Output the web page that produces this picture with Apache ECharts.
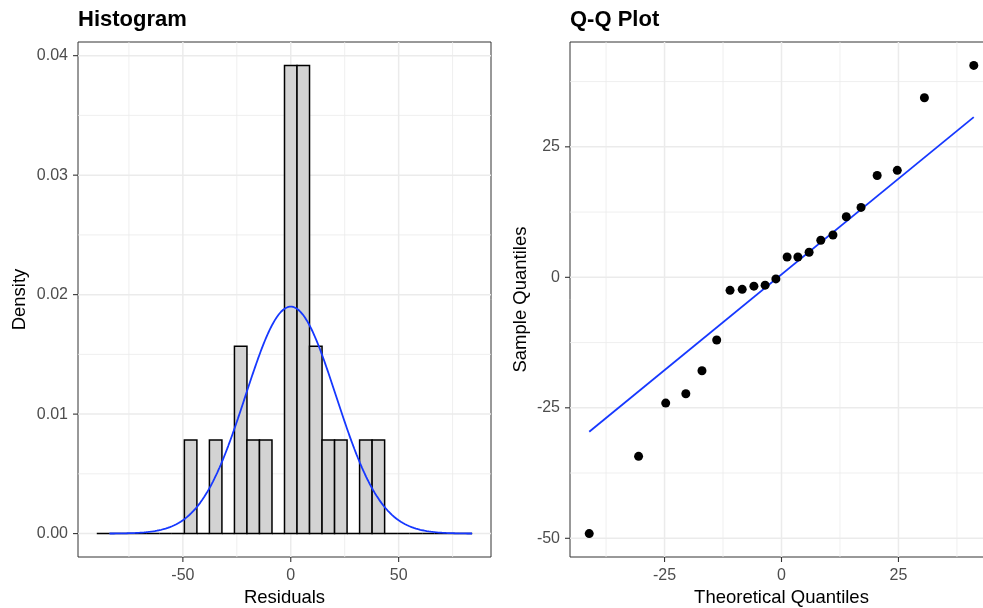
<!DOCTYPE html>
<html>
<head>
<meta charset="utf-8">
<script src="https://cdn.jsdelivr.net/npm/echarts@6/dist/echarts.min.js"></script>
<style>
  html, body { margin: 0; padding: 0; background: #ffffff; }
  #chart { width: 983px; height: 608px; }
</style>
</head>
<body>
<div id="chart"></div>
<script>
// Model residuals, sorted (sample quantiles)
const residuals = [-49.1, -34.3, -24.1, -22.3, -17.9, -12.0, -2.5, -2.3, -1.7, -1.5, -0.3,
                   3.9, 3.9, 4.8, 7.1, 8.1, 11.6, 13.4, 19.5, 20.5, 34.4, 40.6];
// Matching theoretical normal quantiles on the residual scale
const theoretical = [-41.1, -30.55, -24.75, -20.45, -17.0, -13.85, -11.0, -8.4, -5.9, -3.5, -1.2,
                     1.2, 3.5, 5.9, 8.4, 11.0, 13.85, 17.0, 20.45, 24.75, 30.55, 41.1];
// Reference line of the Q-Q plot (end points)
const qqLine = [[-41.1, -29.6], [41.1, 30.7]];

// Histogram binning
const binWidth = 5.8;
const binStart = -89.9;
const binCount = 30;
// Range of the overlaid normal density curve
const curveRange = [-84, 84];

// Tick labels and grid breaks
const histXTicks = [-50, 0, 50];
const histXMinor = [-75, -25, 25, 75];
const histYTicks = [0, 0.01, 0.02, 0.03, 0.04];
const histYMinor = [0.005, 0.015, 0.025, 0.035];
const qqXTicks = [-25, 0, 25];
const qqXMinor = [-37.5, -12.5, 12.5, 37.5];
const qqYTicks = [-50, -25, 0, 25];
const qqYMinor = [-37.5, -12.5, 12.5, 37.5];

// ---- derived values ----
const n = residuals.length;
const bins = [];
for (let i = 0; i < binCount; i++) {
  const lo = binStart + i * binWidth, hi = lo + binWidth;
  const c = residuals.filter(r => r >= lo && r < hi).length;
  bins.push([lo, hi, c / (n * binWidth)]);
}
const mean = residuals.reduce((a, b) => a + b, 0) / n;
const sd = Math.sqrt(residuals.reduce((a, b) => a + (b - mean) * (b - mean), 0) / (n - 1));
const curve = [];
for (let x = curveRange[0]; x <= curveRange[1] + 1e-9; x += 0.5) {
  const z = (x - mean) / sd;
  curve.push([x, Math.exp(-0.5 * z * z) / (sd * Math.sqrt(2 * Math.PI))]);
}
const qqPoints = theoretical.map((t, i) => [t, residuals[i]]);

// axis extents (data range padded by 5%)
function padded(lo, hi) { const p = (hi - lo) * 0.05; return [lo - p, hi + p]; }
const histXR = padded(binStart, binStart + binCount * binWidth);
const histYR = padded(0, Math.max(...bins.map(b => b[2])));
const qqXR = padded(Math.min(...theoretical), Math.max(...theoretical));
const qqYR = padded(Math.min(...residuals), Math.max(...residuals));

const FONT = '"Liberation Sans", Arial, Helvetica, sans-serif';
const GRID_COLOR = '#EBEBEB';
const TICK_LEN = 5;

// panel grid lines
function gridLines(idx, values, dir, xr, yr, width) {
  return {
    type: 'custom', xAxisIndex: idx, yAxisIndex: idx, silent: true, z: 1,
    animation: false,
    data: values.map(v => [v, v]),
    renderItem(params, api) {
      const v = api.value(0);
      const a = dir === 'x' ? api.coord([v, yr[0]]) : api.coord([xr[0], v]);
      const b = dir === 'x' ? api.coord([v, yr[1]]) : api.coord([xr[1], v]);
      return { type: 'line', shape: { x1: a[0], y1: a[1], x2: b[0], y2: b[1] },
               style: { stroke: GRID_COLOR, lineWidth: width } };
    }
  };
}
// outward tick marks on the bottom / left panel edges
function tickMarks(idx, values, dir, xr, yr) {
  return {
    type: 'custom', xAxisIndex: idx, yAxisIndex: idx, silent: true, z: 5, clip: false,
    animation: false,
    data: values.map(v => [v, v]),
    renderItem(params, api) {
      const v = api.value(0);
      const a = dir === 'x' ? api.coord([v, yr[0]]) : api.coord([xr[0], v]);
      const shape = dir === 'x'
        ? { x1: a[0], y1: a[1], x2: a[0], y2: a[1] + TICK_LEN }
        : { x1: a[0] - TICK_LEN, y1: a[1], x2: a[0], y2: a[1] };
      return { type: 'line', shape: shape, style: { stroke: '#333333', lineWidth: 1.1 } };
    }
  };
}

function xAxisCfg(idx, range, ticks, name, gap, fmt) {
  return {
    type: 'value', gridIndex: idx, min: range[0], max: range[1],
    axisLine: { show: false },
    splitLine: { show: false },
    axisTick: { show: false },
    axisLabel: { customValues: ticks, margin: 11, color: '#4D4D4D', fontSize: 16, fontFamily: FONT,
                 formatter: fmt },
    name: name, nameLocation: 'middle', nameGap: gap,
    nameTextStyle: { color: '#000000', fontSize: 18.5, fontFamily: FONT }
  };
}
function yAxisCfg(idx, range, ticks, name, gap, fmt) {
  const c = xAxisCfg(idx, range, ticks, name, gap, fmt);
  c.axisLabel.margin = 10;
  c.nameRotate = 90;
  return c;
}

const chart = echarts.init(document.getElementById('chart'), null, { renderer: 'canvas' });
chart.setOption({
  backgroundColor: '#ffffff',
  animation: false,
  title: [
    { text: 'Histogram', left: 78, top: 9, padding: 0,
      textStyle: { fontSize: 22, fontWeight: 'bold', color: '#000000', fontFamily: FONT } },
    { text: 'Q-Q Plot', left: 570, top: 9, padding: 0,
      textStyle: { fontSize: 22, fontWeight: 'bold', color: '#000000', fontFamily: FONT } }
  ],
  grid: [
    { left: 78, top: 42, width: 413, height: 515, show: true, borderColor: '#333333', borderWidth: 1,
      backgroundColor: 'transparent', containLabel: false, outerBoundsMode: 'none' },
    { left: 570, top: 42, width: 423, height: 515, show: true, borderColor: '#333333', borderWidth: 1,
      backgroundColor: 'transparent', containLabel: false, outerBoundsMode: 'none' }
  ],
  xAxis: [
    xAxisCfg(0, histXR, histXTicks, 'Residuals', 31, v => String(v)),
    xAxisCfg(1, qqXR, qqXTicks, 'Theoretical Quantiles', 31, v => String(v))
  ],
  yAxis: [
    yAxisCfg(0, histYR, histYTicks, 'Density', 49, v => v.toFixed(2)),
    yAxisCfg(1, qqYR, qqYTicks, 'Sample Quantiles', 40, v => String(v))
  ],
  series: [
    gridLines(0, histXMinor, 'x', histXR, histYR, 0.8),
    gridLines(0, histYMinor, 'y', histXR, histYR, 0.8),
    gridLines(0, histXTicks, 'x', histXR, histYR, 1.5),
    gridLines(0, histYTicks, 'y', histXR, histYR, 1.5),
    gridLines(1, qqXMinor, 'x', qqXR, qqYR, 0.8),
    gridLines(1, qqYMinor, 'y', qqXR, qqYR, 0.8),
    gridLines(1, qqXTicks, 'x', qqXR, qqYR, 1.5),
    gridLines(1, qqYTicks, 'y', qqXR, qqYR, 1.5),
    tickMarks(0, histXTicks, 'x', histXR, histYR),
    tickMarks(0, histYTicks, 'y', histXR, histYR),
    tickMarks(1, qqXTicks, 'x', qqXR, qqYR),
    tickMarks(1, qqYTicks, 'y', qqXR, qqYR),
    {
      name: 'histogram', type: 'custom', xAxisIndex: 0, yAxisIndex: 0, z: 3,
      data: bins,
      encode: { x: [0, 1], y: 2 },
      renderItem(params, api) {
        const p0 = api.coord([api.value(0), api.value(2)]);
        const p1 = api.coord([api.value(1), 0]);
        return { type: 'rect',
                 shape: { x: p0[0], y: p0[1], width: p1[0] - p0[0], height: p1[1] - p0[1] },
                 style: { fill: '#D3D3D3', stroke: '#000000', lineWidth: 1.5 } };
      }
    },
    {
      name: 'normal density', type: 'line', xAxisIndex: 0, yAxisIndex: 0, z: 4,
      data: curve, showSymbol: false, symbol: 'none', smooth: false,
      lineStyle: { color: '#1638FF', width: 1.8 }
    },
    {
      name: 'qq line', type: 'line', xAxisIndex: 1, yAxisIndex: 1, z: 3,
      data: qqLine, showSymbol: false, symbol: 'none',
      lineStyle: { color: '#1638FF', width: 1.8 }
    },
    {
      name: 'qq points', type: 'scatter', xAxisIndex: 1, yAxisIndex: 1, z: 4,
      data: qqPoints, symbol: 'circle', symbolSize: 9,
      itemStyle: { color: '#000000', opacity: 1 }
    }
  ]
});
</script>
</body>
</html>
